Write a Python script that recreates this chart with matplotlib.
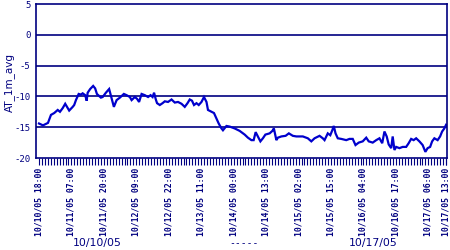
import matplotlib
matplotlib.use("Agg")
import matplotlib.pyplot as plt
import numpy as np
from datetime import datetime, timedelta

# ---- data ----
start_time = datetime(2005, 10, 10, 18, 0)
hours = [0, 1.6, 3.6, 4.8, 6.1, 7.5, 8.4, 9.5, 10.5, 11.5, 12.1, 13.5, 14.1, 14.8,
         15.9, 16.8, 17.5, 18.5, 19.1, 19.5, 20.5, 21.7, 22.5, 23.2, 24.8, 25.5, 26.8,
         28.1, 29.1, 30.0, 31.1, 32.4, 34.0, 35.1, 36.4, 37.1, 38.4, 39.3, 40.1, 41.1,
         42.4, 43.7, 44.7, 45.5, 46.1, 46.8, 47.3, 48.4, 49.5, 50.4, 51.7,
         53.1, 54.4, 55.7, 57.1, 58.4, 59.5, 60.4, 61.3, 62.1, 63.1, 64.0, 65.1, 66.1,
         67.1, 67.7, 69.1, 70.1, 71.1, 72.0, 73.1, 73.7, 75.1, 76.4,
         78.4, 80.4, 82.4, 83.7, 85.1, 86.0, 86.8, 87.7, 88.7, 89.7, 90.7, 92.4, 93.5,
         94.1, 95.1, 95.7, 97.1, 98.8, 100.1, 101.7, 103.1, 105.1,
         105.7, 107.7, 109.1, 110.4, 112.4, 113.7, 114.4, 115.7, 116.7, 117.5, 118.1,
         118.8, 119.7, 121.1, 123.1, 124.4, 125.7, 126.8, 128.1, 129.7, 131.1, 132.1,
         133.7, 135.1, 136.4, 137.5, 138.4, 139.3, 140.1, 141.1, 141.7, 142.4, 143.1,
         144.4, 145.7, 147.1, 148.1, 149.1, 150.1, 151.1, 152.4, 153.7, 154.8, 155.7,
         156.7, 157.5, 158.4, 159.7, 160.7, 161.5, 162.4, 163.1]
at_1m_avg = [-14.4, -14.7, -14.3, -13.0, -12.7, -12.2, -12.5, -11.9, -11.2, -11.9, -12.3,
             -11.7, -11.4, -10.6, -9.6, -9.7, -9.5, -9.8, -10.7, -9.4, -8.8, -8.3, -8.7,
             -9.6, -10.2, -10.1, -9.4,
             -8.8, -10.3, -11.7, -10.6, -10.2, -9.6, -9.8, -10.1, -10.6, -10.1, -10.4,
             -10.9, -9.6, -9.8, -10.1, -9.8, -10.1, -9.4, -10.5, -11.1, -11.4, -11.1,
             -10.8, -10.9,
             -10.5, -11.0, -10.9, -11.2, -11.7, -11.1, -10.5, -10.7, -11.4, -11.1, -11.4,
             -10.9, -10.1, -10.9, -12.2, -12.5, -12.7, -13.6, -14.4, -15.2, -15.5, -14.8,
             -14.9,
             -15.2, -15.6, -16.2, -16.7, -17.1, -17.1, -15.8, -16.5, -17.3, -16.8, -16.2,
             -16.0, -15.6, -15.2, -17.1, -16.7, -16.5, -16.4, -16.0, -16.4, -16.5, -16.5,
             -16.5, -16.8, -17.3, -16.8, -16.4, -16.8, -17.1, -16.0, -16.3, -15.5, -14.8,
             -16.0, -16.8, -16.9, -17.1, -16.9, -16.9, -17.9, -17.5, -17.3, -16.7, -17.3,
             -17.5, -17.1, -16.8, -17.6, -15.7, -16.5, -17.8, -18.4, -16.5, -18.7, -18.2,
             -18.4, -18.2, -18.2, -17.6, -16.9, -17.1, -16.8, -17.3, -17.9, -19.0, -18.4,
             -18.2, -17.3, -16.8, -17.1, -16.5, -15.7, -15.2, -14.6]
label_hours = [0, 13, 26, 39, 52, 65, 78, 91, 104, 117, 130, 143, 156, 163]
y_ticks = [5, 0, -5, -10, -15, -20]
footer_texts = ["10/10/05", "-----", "10/17/05"]

navy = "#000080"
line_blue = "#0000CC"

plt.rcParams['font.family'] = ['DejaVu Sans']
fig = plt.figure(figsize=(4.5, 2.5), dpi=100)
ax = fig.add_axes([0.08, 0.368, 0.913, 0.616])

ax.plot(hours, at_1m_avg, color=line_blue, lw=1.6, solid_joinstyle='miter')

ax.set_xlim(-1.2, 163.4)
ax.set_ylim(-20, 5)
ax.set_yticks(y_ticks)
ax.set_yticklabels([str(v) for v in y_ticks], fontsize=6.5, color=navy,
                   family='DejaVu Sans Mono')
for v in y_ticks[1:-1]:
    ax.axhline(v, color=navy, lw=1.2, zorder=1)

ax.set_xticks(label_hours)
labels = [(start_time + timedelta(hours=h)).strftime("%m/%d/%y %H:%M") for h in label_hours]
ax.set_xticklabels(labels, rotation=90, fontsize=5.9, color=navy,
                   family='DejaVu Sans Mono', fontweight='bold')
ax.set_xticks(np.arange(0, 164, 13 / 11), minor=True)
ax.tick_params(axis='x', which='both', direction='out', length=5, width=0.8,
               color=navy, pad=2)
ax.tick_params(axis='y', length=0, pad=4)

for s in ax.spines.values():
    s.set_color(navy)
    s.set_linewidth(1.2)

fig.text(9 / 450, 1 - 82 / 250, "AT_1m_avg", color=navy, fontsize=7.5,
         rotation=90, ha='center', va='center')

fig.text(97 / 450, 1 - 243 / 250, footer_texts[0], color=navy, fontsize=7.8,
         ha='center', va='center')
fig.text(244 / 450, 1 - 243 / 250, footer_texts[1], color=navy, fontsize=7,
         ha='center', va='center', family='DejaVu Sans Mono')
fig.text(373 / 450, 1 - 243 / 250, footer_texts[2], color=navy, fontsize=7.8,
         ha='center', va='center')

fig.savefig("out.png", dpi=100)
